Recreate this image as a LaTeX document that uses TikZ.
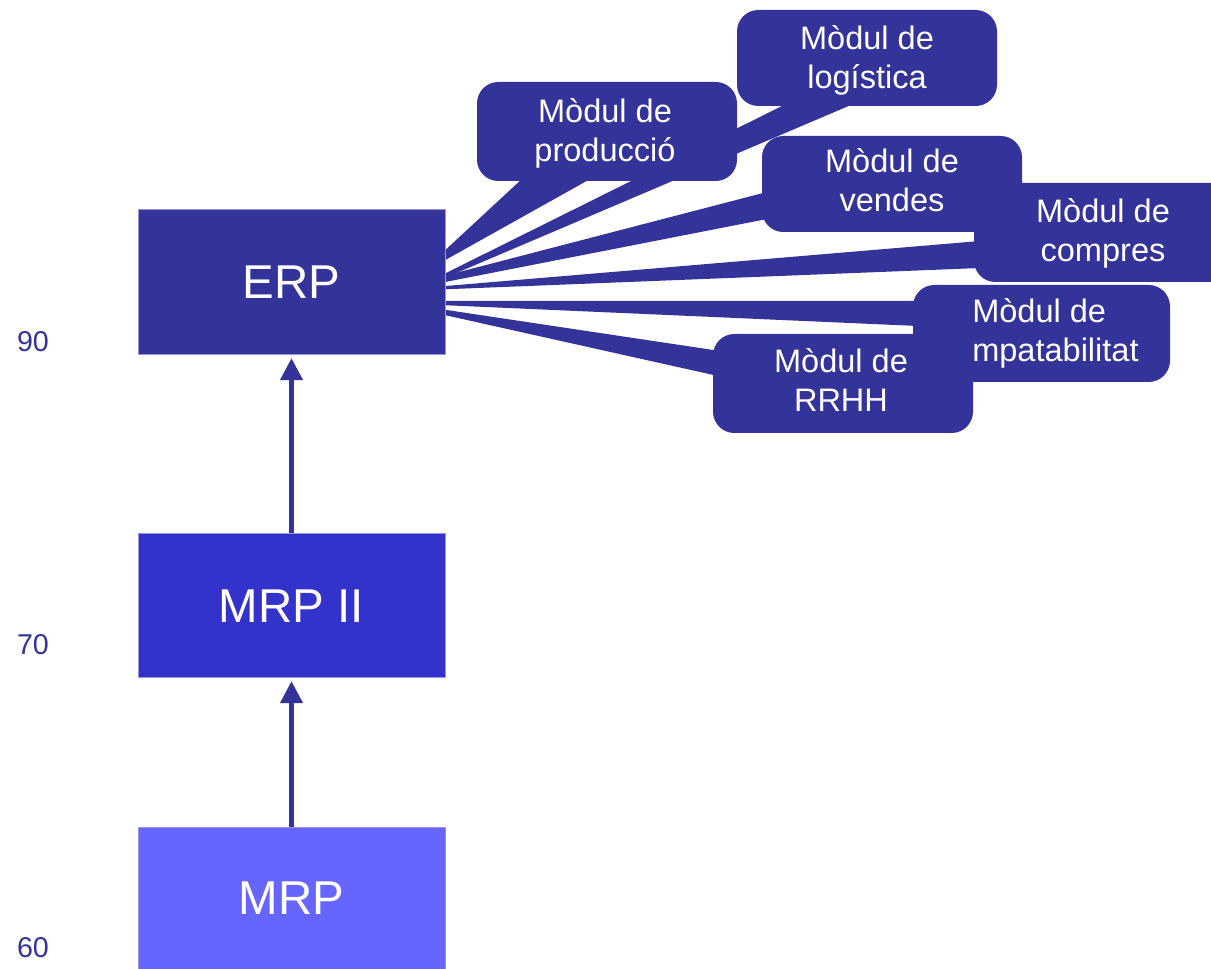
\documentclass[tikz,border=0pt]{standalone}
\usepackage{fontspec}
\setmainfont{Liberation Sans}
\usetikzlibrary{arrows.meta}
\definecolor{navy}{RGB}{51,51,153}
\definecolor{midblue}{RGB}{51,51,204}
\definecolor{lightblue}{RGB}{102,102,255}
\definecolor{edgecol}{RGB}{150,150,225}
\begin{document}
\begin{tikzpicture}[x=0.75pt,y=-0.75pt,
  era/.style={draw=edgecol, line width=0.75pt, minimum width=230.25pt, inner sep=0pt, text=white, font=\fontsize{35.6}{42}\selectfont},
  bubble/.style={fill=navy, rounded corners=16pt, inner sep=0pt},
  wedge/.style={fill=navy},
  bubbletext/.style={text=white, inner sep=0pt, align=center, font=\fontsize{24.4}{29.25}\selectfont},
  year/.style={text=navy, inner sep=0pt, font=\fontsize{21.5}{25}\selectfont},
  uparrow/.style={draw=navy, line width=3.2pt, -{Triangle[width=16.5pt,length=16.5pt]}, shorten >=2pt}
]
\useasboundingbox (0,0) rectangle (1211,969);

% callout tails
\fill[wedge] (440,255) -- (523,178) -- (592,178) -- (440,263) -- cycle;
\fill[wedge] (440,276) -- (790,102) -- (858,102) -- (440,280) -- cycle;
\fill[wedge] (440,277) -- (767,192) -- (767,219) -- (440,283) -- cycle;
\fill[wedge] (440,286.5) -- (980,241) -- (980,268) -- (440,289.5) -- cycle;
\fill[wedge] (440,301) -- (918,301) -- (918,326) -- (440,305) -- cycle;
\fill[wedge] (440,309) -- (718,350.7) -- (718,376) -- (440,314) -- cycle;

% callout bodies
\node (prodB) [bubble, minimum width=195pt, minimum height=74.25pt] at (607,131.5) {};
\node (logB) [bubble, minimum width=195pt, minimum height=72pt] at (867,58) {};
\node (vendB) [bubble, minimum width=195pt, minimum height=72pt] at (892,184) {};
\node (compB) [bubble, minimum width=195.75pt, minimum height=74.25pt] at (1104.5,232.5) {};
\node (comptB) [bubble, minimum width=192.75pt, minimum height=72.75pt] at (1041.5,333.5) {};
\node (rrhhB) [bubble, minimum width=195pt, minimum height=74.25pt] at (843,383.5) {};

% era boxes
\node (erp) [era, fill=navy, minimum height=108.75pt] at (291.5,282.5) {ERP};
\node (mrpii) [era, fill=midblue, minimum height=108pt] at (291.5,606) {MRP II};
\node (mrp) [era, fill=lightblue, minimum height=106.5pt] at (291.5,898) {MRP};

% arrows
\draw[uparrow] (mrp.north) -- (mrpii.south);
\draw[uparrow] (mrpii.north) -- (erp.south);

% years
\node (y90) [year] at (33,342) {90};
\node (y70) [year] at (33,645) {70};
\node (y60) [year] at (33,948) {60};

% callout texts
\node (prodT) [bubbletext] at (605,134.7) {\strut Mòdul de\\\strut producció};
\node (logT) [bubbletext] at (867,61.7) {\strut Mòdul de\\\strut logística};
\node (vendT) [bubbletext] at (892,184.7) {\strut Mòdul de\\\strut vendes};
\node (compT) [bubbletext] at (1103,234.7) {\strut Mòdul de\\\strut compres};
\node (comptT) [bubbletext, align=left, anchor=west] at (972,334.7) {\strut Mòdul de\\\strut mpatabilitat};
\node (rrhhT) [bubbletext] at (841,384.7) {\strut Mòdul de\\\strut RRHH};
\end{tikzpicture}
\end{document}
